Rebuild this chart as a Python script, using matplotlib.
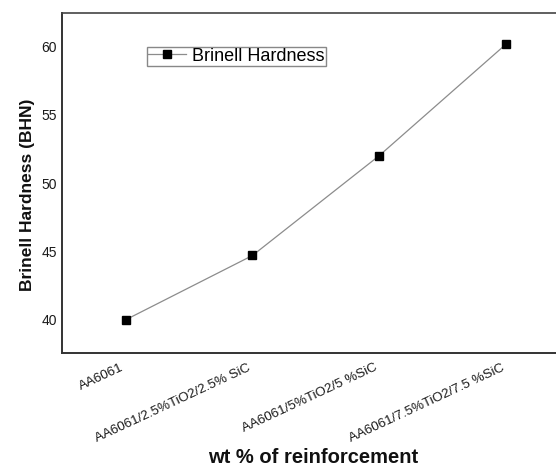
import matplotlib
matplotlib.use("Agg")
import matplotlib.pyplot as plt

# Composition labels and measured Brinell hardness values
categories = [
    "AA6061",
    "AA6061/2.5%TiO2/2.5% SiC",
    "AA6061/5%TiO2/5 %SiC",
    "AA6061/7.5%TiO2/7.5 %SiC",
]
hardness = [40.0, 44.7, 52.0, 60.15]
y_ticks = [40, 45, 50, 55, 60]

plt.rcParams["font.family"] = ["Liberation Sans", "DejaVu Sans"]

W, H = 556, 466
fig = plt.figure(figsize=(W / 100, H / 100), dpi=100)
# axes frame runs past the right edge of the figure
left, right, top, bottom = 62.3, 569.4, 12.7, 353.3
ax = fig.add_axes([left / W, 1 - bottom / H, (right - left) / W, (bottom - top) / H])

x = list(range(len(categories)))
ax.plot(x, hardness, color="#8c8c8c", linewidth=0.9,
        marker="s", markersize=5.8, markerfacecolor="black",
        markeredgecolor="black", label="Brinell Hardness")

ax.set_xlim(-0.5, 3.5)
ax.set_ylim(37.55, 62.45)
ax.set_yticks(y_ticks)
ax.set_yticklabels([str(v) for v in y_ticks], fontsize=10, color="#1a1a1a")
ax.set_xticks(x)
ax.set_xticklabels(categories, rotation=25, ha="right", va="top",
                   fontsize=9.6, color="#1a1a1a")
ax.tick_params(axis="both", length=0)
ax.tick_params(axis="y", pad=4)
ax.tick_params(axis="x", pad=6)

for side in ("left", "bottom"):
    ax.spines[side].set_color("#333333")
    ax.spines[side].set_linewidth(1.4)
ax.spines["top"].set_color("#444444")
ax.spines["top"].set_linewidth(1.2)
ax.spines["right"].set_visible(False)

ax.set_ylabel("Brinell Hardness (BHN)", fontsize=12.5, fontweight="bold", color="#111111")
ax.yaxis.set_label_coords(-0.068, 0.465)
ax.yaxis.label.set_va("center")
ax.set_xlabel("wt % of reinforcement", fontsize=14.5, fontweight="bold", color="#111111")
ax.xaxis.set_label_coords(0.495, -0.3045)
ax.xaxis.label.set_va("center")

leg = ax.legend(loc="upper left", bbox_to_anchor=(147.3 / W, 1 - 46.7 / H),
                bbox_transform=fig.transFigure, borderaxespad=0,
                fontsize=13, frameon=True, fancybox=False, framealpha=1,
                edgecolor="#888888", handlelength=2.1, handletextpad=0.35,
                borderpad=0.05, markerscale=1.0)
leg.get_frame().set_linewidth(1.0)

fig.savefig("out.png", dpi=100)
